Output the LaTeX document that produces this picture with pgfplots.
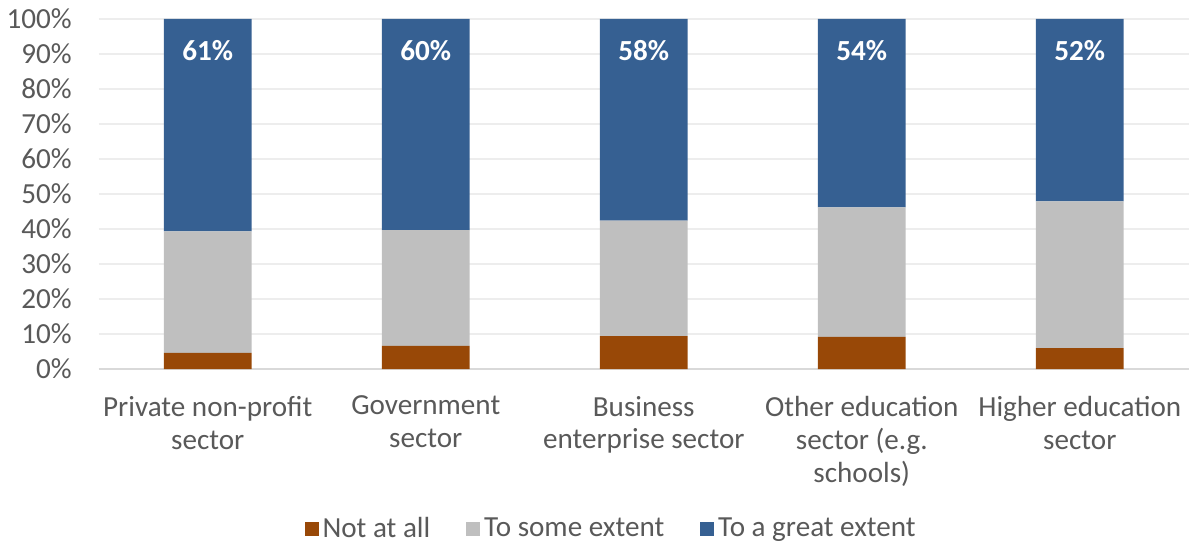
\documentclass[border=0pt]{standalone}
\usepackage{fontspec}
\setmainfont{Carlito}
\usepackage{pgfplots}
\pgfplotsset{compat=1.18}
\definecolor{cOrange}{HTML}{984807}
\definecolor{cGray}{HTML}{BFBFBF}
\definecolor{cBlue}{HTML}{366092}
\definecolor{cText}{HTML}{595959}
\definecolor{cGrid}{HTML}{EDEDED}
\definecolor{cAxis}{HTML}{D9D9D9}
\newcommand{\lblfont}{\fontsize{14.6}{16.5}\selectfont}
\begin{document}
\begin{tikzpicture}
\begin{axis}[
  name=ax,
  scale only axis, width=546.5pt, height=175.5pt,
  ybar stacked, bar width=44pt,
  xmin=-0.5, xmax=4.5, ymin=0, ymax=100,
  xtick={0,1,2,3,4},
  xticklabels={{Private non-profit\\sector},{Government\\sector},{Business\\enterprise sector},{Other education\\sector (e.g.\\schools)},{Higher education\\sector}},
  xticklabel style={align=center, font=\lblfont, text=cText, yshift=-10pt},
  ytick={0,10,...,100},
  yticklabel={\pgfmathprintnumber{\tick}\%},
  yticklabel style={font=\lblfont, text=cText, xshift=-10pt},
  /pgf/number format/assume math mode=true,
  ymajorgrids, grid style={draw=cGrid, line width=1pt},
  axis lines*=left, y axis line style={draw=none},
  x axis line style={draw=cAxis, line width=1.2pt},
  major tick length=0pt,
  legend style={at={(0.471,-0.456)}, anchor=center, draw=none, fill=none,
    legend columns=3, font=\lblfont, text=cText,
    /tikz/every even column/.append style={column sep=16pt}},
  legend image code/.code={\fill[#1] (0pt,-3.5pt) rectangle (7pt,3.5pt);},
]
\addplot[fill=cOrange, draw=none] coordinates {(0,4.6) (1,6.6) (2,9.4) (3,9.2) (4,6.0)};
\addplot[fill=cGray, draw=none] coordinates {(0,34.7) (1,33.1) (2,33.0) (3,37.0) (4,41.9)};
\addplot[fill=cBlue, draw=none, point meta=explicit symbolic,
  visualization depends on=rawy \as \rawy,
  nodes near coords,
  every node near coord/.append style={font=\lblfont\bfseries, text=white, anchor=center,
     yshift={(0.5*\rawy-9.1)*1.755pt}}]
  coordinates {(0,60.7) [61\%] (1,60.3) [60\%] (2,57.6) [58\%] (3,53.8) [54\%] (4,52.1) [52\%]};
\legend{Not at all, To some extent, To a great extent}
\end{axis}
\path (ax.south west) ++(-48.5pt,-88.5pt);
\path (ax.north east) ++(0pt,9.5pt);
\end{tikzpicture}
\end{document}
